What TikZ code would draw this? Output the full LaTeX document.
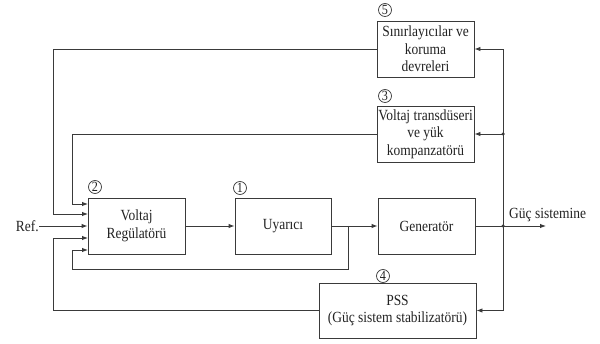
\documentclass[tikz,border=0pt]{standalone}
\usepackage{fontspec}
\setmainfont[FakeStretch=0.87]{Liberation Serif}
\usetikzlibrary{arrows.meta}
\definecolor{ln}{HTML}{3A3A3A}
\definecolor{tx}{HTML}{222222}
\begin{document}
\begin{tikzpicture}[x=1pt,y=-1pt,
  blk/.style={draw=ln,line width=0.9pt,rectangle,minimum width=97pt,minimum height=56pt,inner sep=1pt,align=center,text=tx,font=\fontsize{15.5}{17.5}\selectfont},
  num/.style={draw=ln,line width=0.7pt,circle,minimum size=13pt,inner sep=0pt,text=tx,font=\fontsize{14}{14}\selectfont},
  wire/.style={draw=ln,line width=0.9pt},
  arr/.style={wire,-{Latex[length=6pt,width=4.5pt]}},
  dot/.style={circle,fill=ln,inner sep=0pt,minimum size=3.5pt},
  lbl/.style={text=tx,font=\fontsize{15.5}{17.5}\selectfont,inner sep=0pt}]
\useasboundingbox (0,0) rectangle (600,344);
% blocks
\node[blk] (b5) at (425.5,49) {Sınırlayıcılar ve\\koruma\\devreleri};
\node[blk] (b3) at (425.5,134) {Voltaj transdüseri\\ve yük\\kompanzatörü};
\node[blk] (b2) at (136.5,226) {Voltaj\\Regülatörü};
\node[blk,minimum width=96pt] (b1) at (283,226) {Uyarıcı};
\node[blk] (bg) at (426.5,226) {Generatör};
\node[blk,minimum width=157pt,minimum height=55pt] (pss) at (397.5,310.5) {PSS\\(Güç sistem stabilizatörü)};
% numbers
\node[num] (n5) at (385,10) {5};
\node[num] (n3) at (385,96) {3};
\node[num] (n2) at (95,187) {2};
\node[num] (n1) at (240,188) {1};
\node[num] (n4) at (383,276) {4};
% coordinates
\coordinate (i1) at (88,204);
\coordinate (i2) at (88,214);
\coordinate (i4) at (88,238);
\coordinate (i5) at (88,250);
\coordinate (k1) at (72,204);
\coordinate (k2) at (53,214);
\coordinate (k4) at (53,238);
\coordinate (k5) at (72,269);
\coordinate (bus) at (503,226);
\coordinate (b3j) at (503,134);
\coordinate (j1) at (348,226);
\coordinate (out) at (546,226);
\node[lbl,anchor=east] (ref) at (39,226) {Ref.};
\node[lbl,anchor=south west] (gs) at (509,222) {Güç sistemine};
% wires
\draw[arr] (b2.east) -- (b1.west);
\draw[arr] (b1.east) -- (bg.west);
\draw[wire] (bg.east) -- (bus);
\draw[arr] (bus) -- (out);
\draw[arr] (bus) |- (b5.east);
\draw[arr] (bus) |- (pss.east);
\draw[arr] (b3j) -- (b3.east);
\draw[arr] (b5.west) -| (k2) -- (i2);
\draw[arr] (b3.west) -| (k1) -- (i1);
\draw[arr] (ref.east) -- (b2.west);
\draw[arr] (pss.west) -| (k4) -- (i4);
\draw[arr] (j1) |- (k5) |- (i5);
\node[dot] at (bus) {};
\node[dot] at (b3j) {};
\end{tikzpicture}
\end{document}
